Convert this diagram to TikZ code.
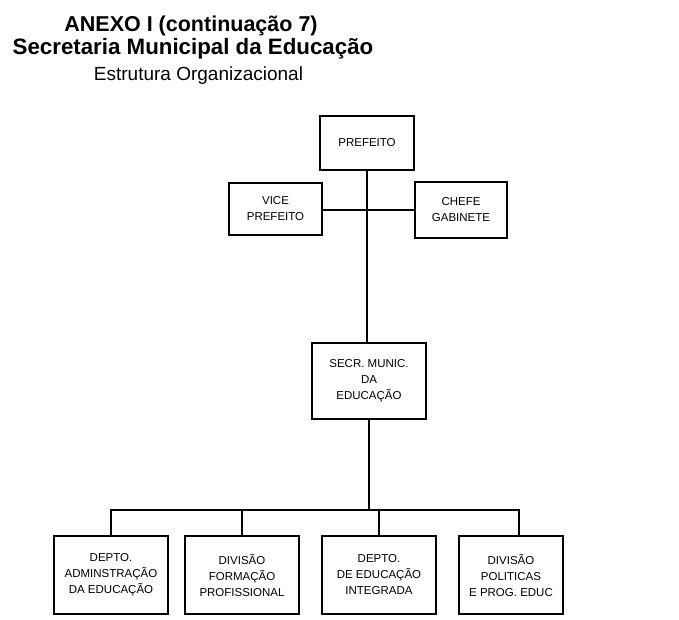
\documentclass[tikz,border=0pt]{standalone}
\usepackage{fontspec}
\setmainfont{Liberation Sans}
\begin{document}
\begin{tikzpicture}[x=1pt,y=-1pt,
  box/.style={draw, line width=1.2pt, align=center, inner sep=2pt, font=\fontsize{11.5}{16}\selectfont},
  link/.style={line width=1.2pt}]
\useasboundingbox (0,0) rectangle (679,619);
\node[font=\bfseries\fontsize{21.5}{22}\selectfont] (t1) at (191,26) {ANEXO I (continuação 7)};
\node[font=\bfseries\fontsize{22.3}{23}\selectfont] (t2) at (193,49) {Secretaria Municipal da Educação};
\node[font=\fontsize{19}{20}\selectfont] (t3) at (198.5,76) {Estrutura Organizacional};

\node[box, minimum width=94pt, minimum height=54pt] (pref) at (367,143) {PREFEITO};
\node[box, minimum width=93pt, minimum height=52pt] (vice) at (275.5,209) {VICE\\PREFEITO};
\node[box, minimum width=92pt, minimum height=56pt] (chefe) at (461,210) {CHEFE\\GABINETE};
\node[box, minimum width=114pt, minimum height=76pt] (secr) at (369,381) {SECR. MUNIC.\\DA\\EDUCAÇÃO};

\node[box, minimum width=114pt, minimum height=78pt] (b1) at (111,575) {DEPTO.\\ADMINSTRAÇÃO\\DA EDUCAÇÃO};
\node[box, minimum width=114pt, minimum height=78pt] (b2) at (242,575) {DIVISÃO\\FORMAÇÃO\\PROFISSIONAL};
\node[box, minimum width=114pt, minimum height=78pt] (b3) at (379,575) {DEPTO.\\DE EDUCAÇÃO\\INTEGRADA};
\node[box, minimum width=104pt, minimum height=78pt] (b4) at (511,575) {DIVISÃO\\POLITICAS\\E PROG. EDUC};

\coordinate (bus) at (369,510);
\coordinate (b4drop) at (519,510);
\draw[link] (pref.south) -- (pref.south |- secr.north);
\draw[link] (vice.east |- 0,210) -- (chefe.west |- 0,210);
\draw[link] (secr.south) -- (bus);
\draw[link] (b1.north) |- (b4drop) -- (b4drop |- b4.north);
\draw[link] (b2.north) -- (b2.north |- bus);
\draw[link] (b3.north) -- (b3.north |- bus);
\end{tikzpicture}
\end{document}
